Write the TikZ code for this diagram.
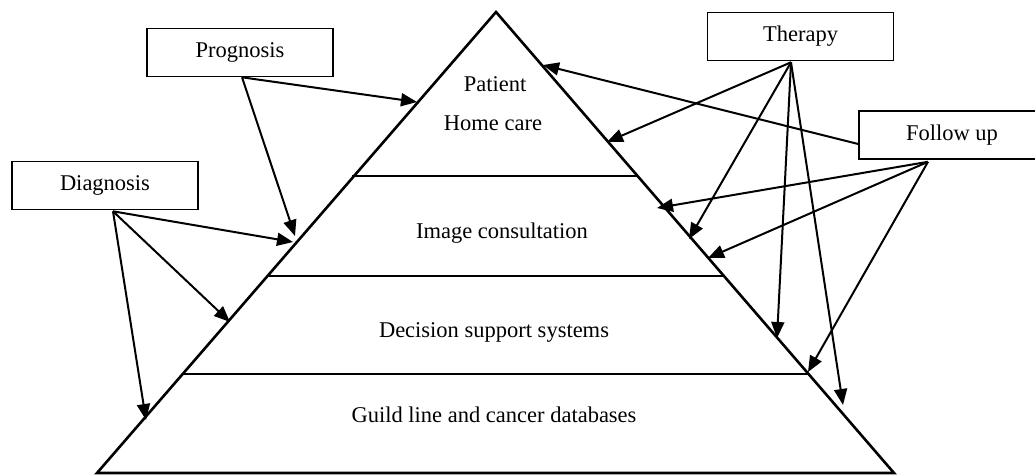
\documentclass[tikz,border=0pt]{standalone}
\usepackage{fontspec}
\setmainfont{Liberation Serif}
\usetikzlibrary{arrows.meta}
\begin{document}
\begin{tikzpicture}[x=1pt,y=-1pt,
  lbl/.style={font=\fontsize{22.5}{27}\selectfont, inner sep=0pt},
  box/.style={draw, line width=1.6pt, minimum width=186pt, minimum height=48pt, inner sep=0pt, font=\fontsize{22.5}{27}\selectfont},
  edge/.style={line width=2.6pt, line join=miter},
  level/.style={line width=1.4pt},
  arr/.style={line width=2pt, -{Triangle[length=16pt,width=13pt]}}]
\path[use as bounding box, clip] (0,0) rectangle (1035,475);
% pyramid
\coordinate (apex) at (496,12);
\coordinate (bl) at (97,473);
\coordinate (br) at (894,473);
\draw[edge] (bl) -- (apex) -- (br) -- cycle;
\coordinate (l1a) at (352,176); \coordinate (l1b) at (637,176);
\coordinate (l2a) at (268,276); \coordinate (l2b) at (723,276);
\coordinate (l3a) at (183,374); \coordinate (l3b) at (808,374);
\draw[level] (l1a) -- (l1b);
\draw[level] (l2a) -- (l2b);
\draw[level] (l3a) -- (l3b);
% level texts
\node[lbl] (pat) at (495,84) {Patient};
\node[lbl] (home) at (493,123) {Home care};
\node[lbl] (img) at (502,233) {Image consultation};
\node[lbl] (dss) at (494,332) {Decision support systems};
\node[lbl] (gl) at (494,415) {Guild line and cancer databases};
% boxes
\node[box] (prog) at (240,52.5) {Prognosis};
\node[box] (diag) at (105,185.5) {Diagnosis};
\node[box] (ther) at (800.5,36.5) {Therapy};
\node[box] (fol) at (952,135) {Follow up};
% start points
\coordinate (ps) at ([xshift=2pt]prog.south);
\coordinate (ds) at ([xshift=8pt,yshift=-1pt]diag.south);
\coordinate (ts) at ([xshift=-9.5pt,yshift=-1pt]ther.south);
\coordinate (fs) at ([xshift=-24pt,yshift=-2pt]fol.south);
\coordinate (fw) at ([yshift=-9pt]fol.west);
% targets
\coordinate (p1) at (417,102);
\coordinate (p2) at (295,236);
\coordinate (d1) at (293,242);
\coordinate (d2) at (230,322);
\coordinate (d3) at (146,420);
\coordinate (t1) at (607,142);
\coordinate (t2) at (689,239);
\coordinate (t3) at (777,338);
\coordinate (t4) at (843,405);
\coordinate (f0) at (543,65);
\coordinate (f1) at (657,208);
\coordinate (f2) at (708,258);
\coordinate (f3) at (808,372);
% arrows
\draw[arr] (ps) -- (p1);
\draw[arr] (ps) -- (p2);
\draw[arr] (ds) -- (d1);
\draw[arr] (ds) -- (d2);
\draw[arr] (ds) -- (d3);
\draw[arr] (ts) -- (t1);
\draw[arr] (ts) -- (t2);
\draw[arr] (ts) -- (t3);
\draw[arr] (ts) -- (t4);
\draw[arr] (fw) -- (f0);
\draw[arr] (fs) -- (f1);
\draw[arr] (fs) -- (f2);
\draw[arr] (fs) -- (f3);
\end{tikzpicture}
\end{document}
